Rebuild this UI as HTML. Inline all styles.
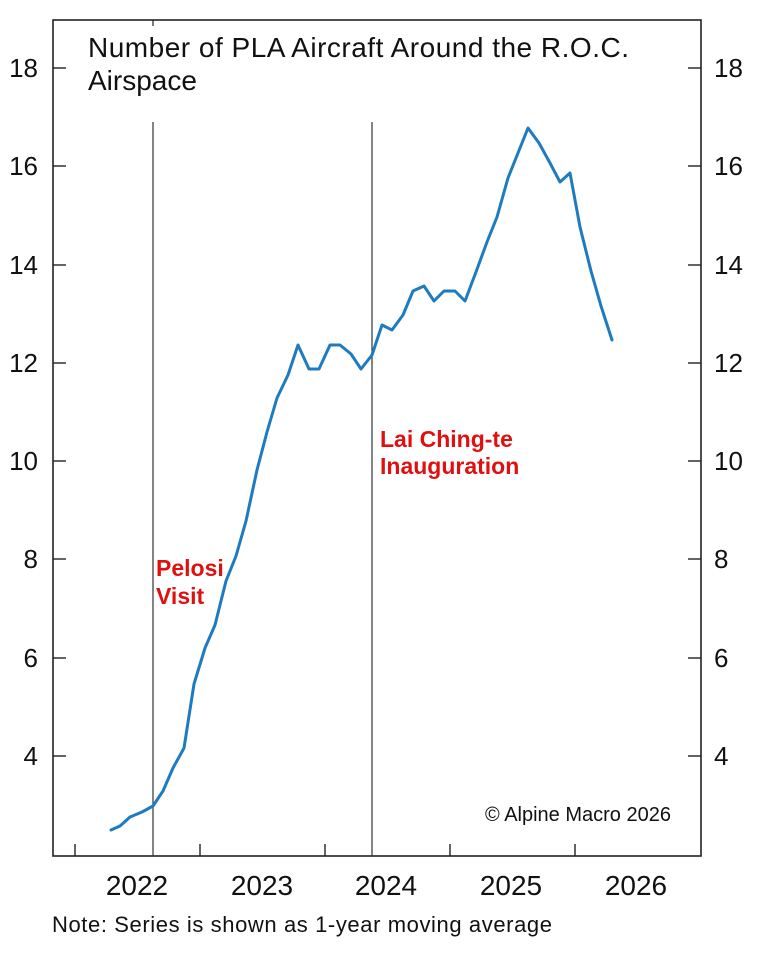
<!DOCTYPE html>
<html><head><meta charset="utf-8"><style>
body{margin:0;background:#fff}
svg text{font-family:"Liberation Sans",Arial,sans-serif}
</style></head><body>
<svg width="768" height="951" viewBox="0 0 768 951" xmlns="http://www.w3.org/2000/svg">
<rect x="53" y="20" width="648" height="836" fill="none" stroke="#222" stroke-width="1.6"/>
<line x1="153" y1="20" x2="153" y2="26" stroke="#222" stroke-width="1.2"/>
<line x1="153" y1="122" x2="153" y2="856" stroke="#333" stroke-width="1.2"/>
<line x1="372" y1="122" x2="372" y2="856" stroke="#333" stroke-width="1.2"/>
<g stroke="#222" stroke-width="1.4">
<line x1="75" y1="844" x2="75" y2="856"/><line x1="200" y1="844" x2="200" y2="856"/><line x1="325" y1="844" x2="325" y2="856"/><line x1="450" y1="844" x2="450" y2="856"/><line x1="575" y1="844" x2="575" y2="856"/>
<line x1="53" y1="68" x2="66" y2="68"/><line x1="53" y1="166" x2="66" y2="166"/><line x1="53" y1="265" x2="66" y2="265"/><line x1="53" y1="363" x2="66" y2="363"/><line x1="53" y1="461" x2="66" y2="461"/><line x1="53" y1="559" x2="66" y2="559"/><line x1="53" y1="658" x2="66" y2="658"/><line x1="53" y1="756" x2="66" y2="756"/>
<line x1="688" y1="68" x2="701" y2="68"/><line x1="688" y1="166" x2="701" y2="166"/><line x1="688" y1="265" x2="701" y2="265"/><line x1="688" y1="363" x2="701" y2="363"/><line x1="688" y1="461" x2="701" y2="461"/><line x1="688" y1="559" x2="701" y2="559"/><line x1="688" y1="658" x2="701" y2="658"/><line x1="688" y1="756" x2="701" y2="756"/>
</g>
<g font-size="26" fill="#111" text-anchor="end">
<text x="38" y="77">18</text><text x="38" y="175">16</text><text x="38" y="274">14</text><text x="38" y="372">12</text><text x="38" y="470">10</text><text x="38" y="568">8</text><text x="38" y="667">6</text><text x="38" y="765">4</text>
</g>
<g font-size="26" fill="#111">
<text x="714" y="77">18</text><text x="714" y="175">16</text><text x="714" y="274">14</text><text x="714" y="372">12</text><text x="714" y="470">10</text><text x="714" y="568">8</text><text x="714" y="667">6</text><text x="714" y="765">4</text>
</g>
<g font-size="28" fill="#111" text-anchor="middle">
<text x="137" y="895">2022</text><text x="262" y="895">2023</text><text x="386" y="895">2024</text><text x="511" y="895">2025</text><text x="636" y="895">2026</text>
</g>
<text x="88" y="57" font-size="28" fill="#111" textLength="541">Number of PLA Aircraft Around the R.O.C.</text>
<text x="88" y="90" font-size="28" fill="#111">Airspace</text>
<text x="156" y="576" font-size="23" font-weight="bold" fill="#e01010">Pelosi</text>
<text x="156" y="604" font-size="23" font-weight="bold" fill="#e01010">Visit</text>
<text x="380" y="447" font-size="23" font-weight="bold" fill="#e01010">Lai Ching-te</text>
<text x="380" y="474" font-size="23" font-weight="bold" fill="#e01010">Inauguration</text>
<text x="485" y="821" font-size="20" fill="#111">© Alpine Macro 2026</text>
<text x="52" y="932" font-size="22" fill="#111" textLength="500">Note: Series is shown as 1-year moving average</text>
<polyline fill="none" stroke="#1f7bc0" stroke-width="3" stroke-linejoin="round" stroke-linecap="round" points="111,830 120,826 130,817 142,812 153,806 163,791 173,768 184,748 194,684 205,648 215,625 226,581 236,556 246,521 257,470 267,432 277,398 288,375 298,345 309,369 319,369 330,345 340,345 351,354 361,369 372,355 382,325 392,330 403,315 413,291 424,286 434,301 444,291 455,291 465,301 476,272 487,242 497,217 508,178 518,153 528,128 539,143 550,163 560,182 570,173 580,227 591,271 601,306 612,340"/>
</svg>
</body></html>
